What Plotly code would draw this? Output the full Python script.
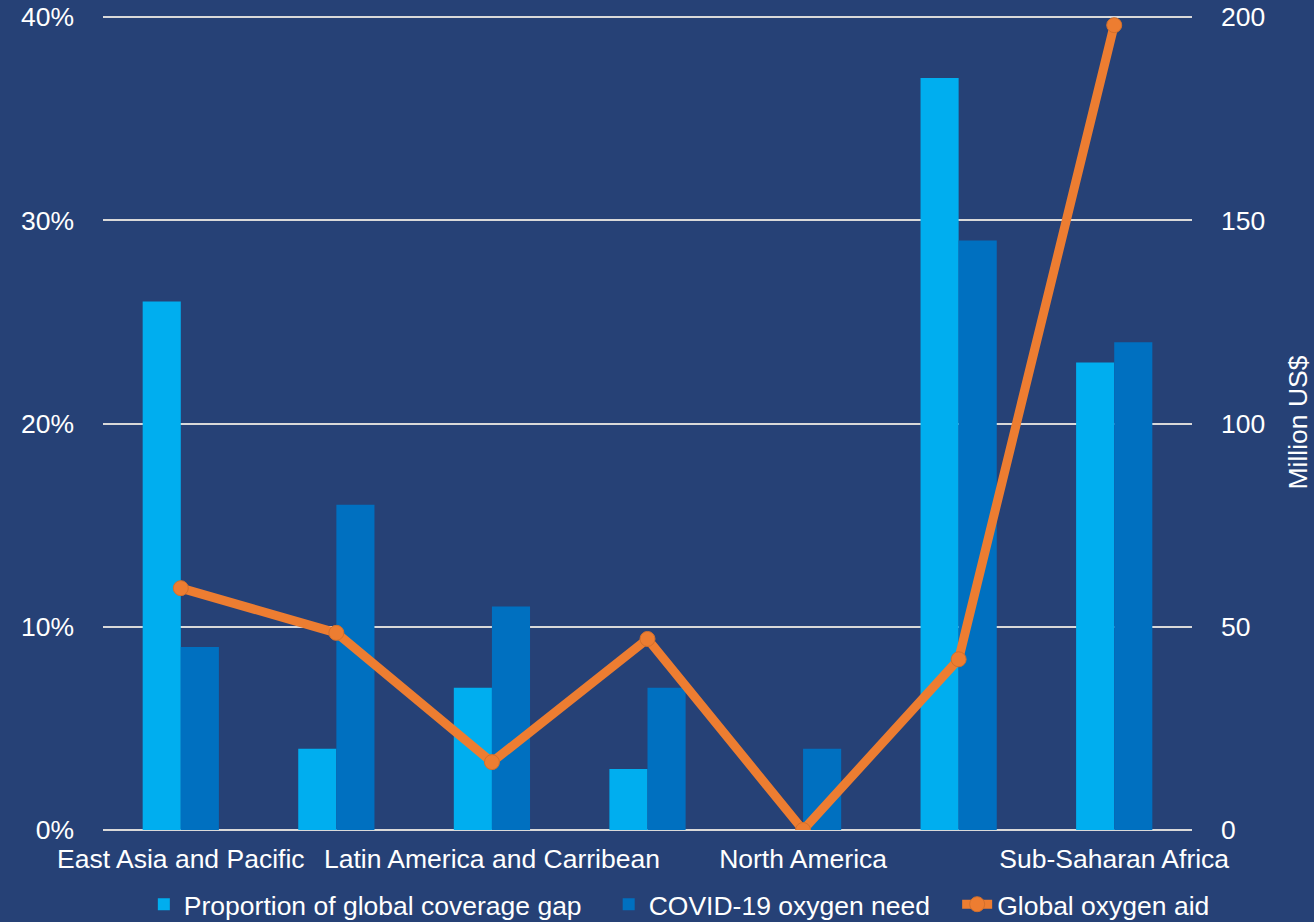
import plotly.graph_objects as go

# Regions (every other label shown on the axis)
regions = [
    "East Asia and Pacific",
    "Europe and Central Asia",
    "Latin America and Carribean",
    "Middle East and North Africa",
    "North America",
    "South Asia",
    "Sub-Saharan Africa",
]
shown_labels = ["East Asia and Pacific", "Latin America and Carribean",
                "North America", "Sub-Saharan Africa"]

# Share of global coverage gap (%)
coverage_gap = [26, 4, 7, 3, 0, 37, 23]
# Share of COVID-19 oxygen need (%)
oxygen_need = [9, 16, 11, 7, 4, 29, 24]
# Global oxygen aid (million US$)
oxygen_aid = [59.5, 48.5, 16.7, 47, 0, 42, 198]

BG = "#264176"
LIGHT = "#00AEEF"
DARK = "#0070C0"
ORANGE = "#ED7D31"
FONT = "Liberation Sans, Arial, sans-serif"
FS = 26.5
PAD = "\u00a0\u00a0\u00a0"  # extra room between legend entries

fig = go.Figure()
fig.add_trace(go.Bar(x=regions, y=coverage_gap, name="Proportion of global coverage gap" + PAD,
                     marker=dict(color=LIGHT, line=dict(width=0))))
fig.add_trace(go.Bar(x=regions, y=oxygen_need, name="COVID-19 oxygen need" + PAD,
                     marker=dict(color=DARK, line=dict(width=0))))
fig.add_trace(go.Scatter(x=regions, y=oxygen_aid, name="Global oxygen aid", yaxis="y2",
                         mode="lines+markers",
                         line=dict(color=ORANGE, width=9),
                         marker=dict(color=ORANGE, size=15,
                                     line=dict(color="#D2702C", width=1))))

# small headroom above the top tick so its gridline is kept
fig.update_layout(
    width=1314, height=922,
    paper_bgcolor=BG, plot_bgcolor=BG,
    margin=dict(l=103, r=122, t=15, b=92, autoexpand=False),
    font=dict(family=FONT, size=FS, color="white"),
    barmode="group", bargap=0.51, bargroupgap=0,
    showlegend=True,
    legend=dict(orientation="h", x=0.517, xanchor="center", xref="container",
                y=0.019, yanchor="middle", yref="container",
                font=dict(size=FS, color="white"), bgcolor="rgba(0,0,0,0)",
                itemwidth=30, tracegroupgap=0),
    xaxis=dict(type="category", tickmode="array", tickvals=shown_labels,
               ticktext=shown_labels, showgrid=False, zeroline=False, showline=False,
               ticks="outside", ticklen=5, tickcolor="rgba(0,0,0,0)",
               tickfont=dict(size=FS, color="white"), tickangle=0),
    yaxis=dict(range=[0, 40.1], tickvals=[0, 10, 20, 30, 40],
               ticktext=["0%", "10%", "20%", "30%", "40%"],
               showgrid=True, gridcolor="#D9D9D9", gridwidth=2,
               zeroline=True, zerolinecolor="#D9D9D9", zerolinewidth=2,
               showline=False, ticks="", ticklabelstandoff=28,
               tickfont=dict(size=FS, color="white")),
    yaxis2=dict(range=[0, 200.5], tickvals=[0, 50, 100, 150, 200],
                overlaying="y", side="right", showgrid=False, zeroline=False,
                showline=False, ticks="", ticklabelstandoff=28,
                tickfont=dict(size=FS, color="white"),
                title=dict(text="Million US$", font=dict(size=FS, color="white"),
                           standoff=24)),
)

fig.write_html("out.html")
